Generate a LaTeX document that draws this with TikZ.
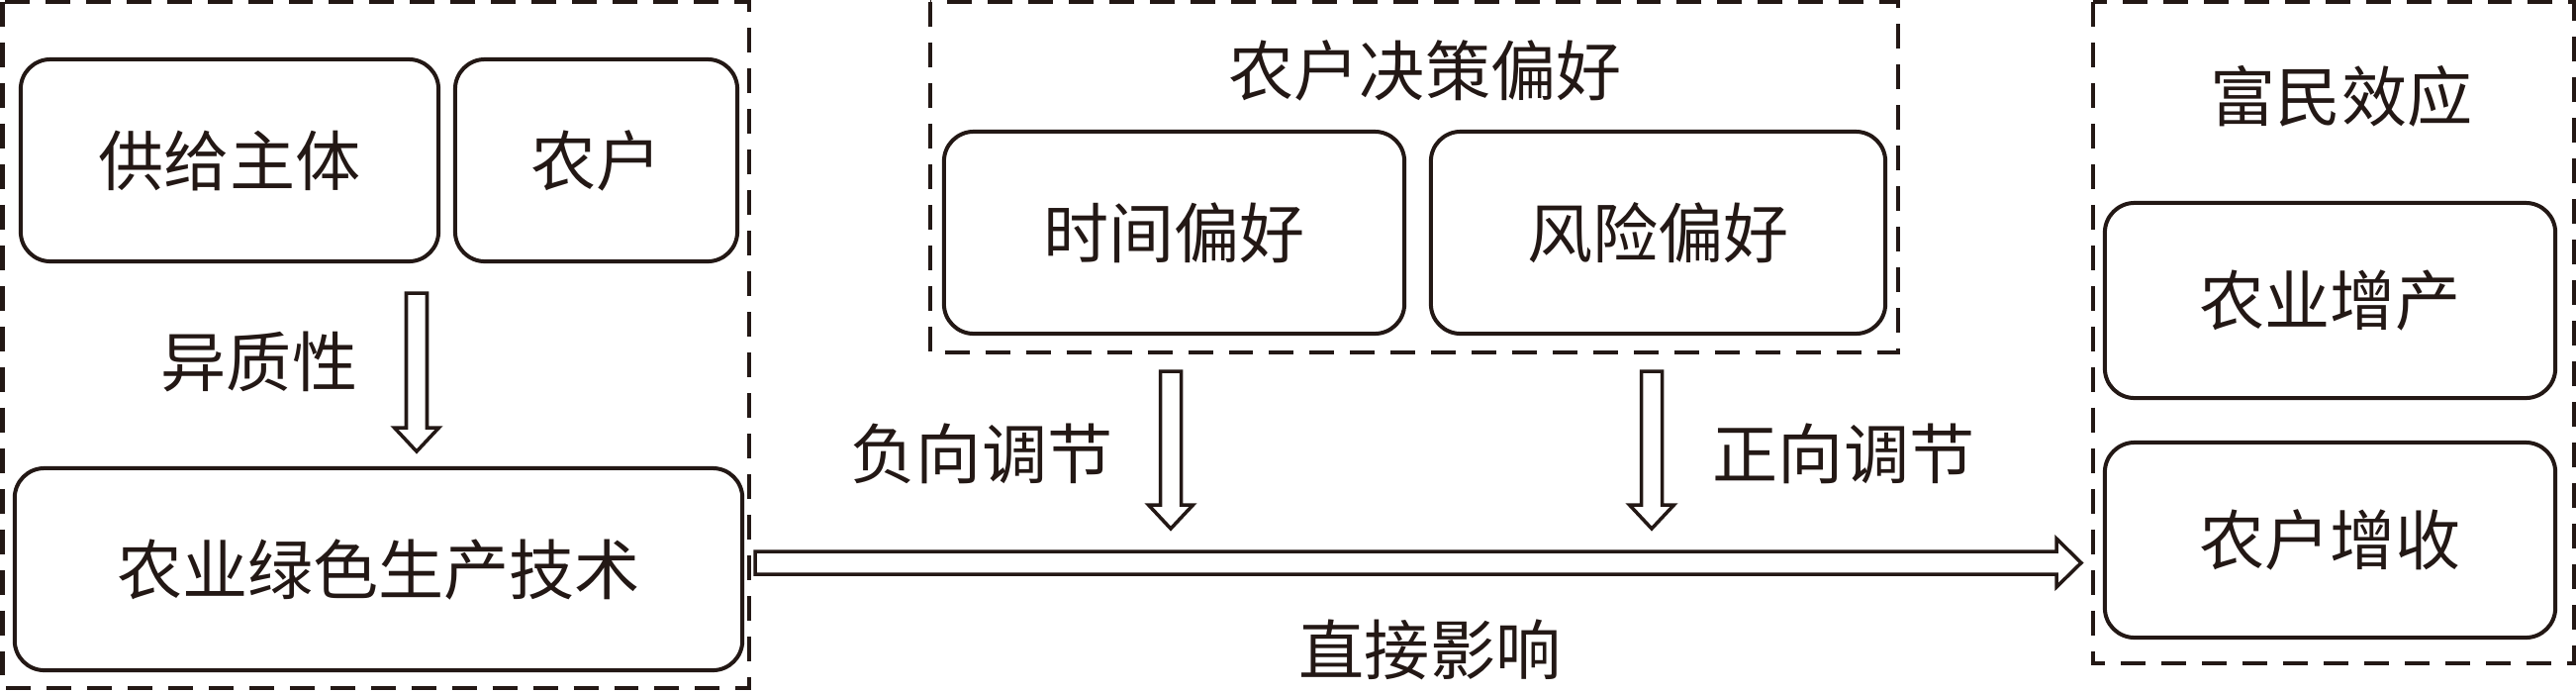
\documentclass[tikz,border=0pt]{standalone}
\usepackage{fontspec}
\setmainfont{Noto Sans CJK SC}
\usetikzlibrary{calc}
\definecolor{ink}{HTML}{231815}
\begin{document}
\begin{tikzpicture}[x=0.01cm,y=-0.01cm,
  every node/.style={font=\fontsize{18.8pt}{20pt}\selectfont, text=ink, inner sep=0pt},
  rbox/.style={draw=ink, line width=1.14pt, rounded corners=0.3cm},
  dbox/.style={draw=ink, line width=1.14pt, dash pattern=on 7.1pt off 4.55pt},
  harrow/.style={draw=ink, line width=1.0pt, fill=white, line join=miter}
]
\useasboundingbox (0,0) rectangle (2603,699);
% dashed groups
\draw[dbox] (2.5,2) rectangle (757,695);
\draw[dbox] (940,2) rectangle (1918,356);
\draw[dbox] (2115,2) rectangle (2601,670);
% boxes
\node[rbox, minimum width=4.22cm, minimum height=2.04cm] (gongji) at (232,162) {供给主体};
\node[rbox, minimum width=2.85cm, minimum height=2.04cm] (nonghu) at (602.5,162) {农户};
\node[rbox, minimum width=7.35cm, minimum height=2.04cm] (jishu) at (382.5,575) {农业绿色生产技术};
\node[rbox, minimum width=4.65cm, minimum height=2.04cm] (shijian) at (1186.5,235) {时间偏好};
\node[rbox, minimum width=4.59cm, minimum height=2.04cm] (fengxian) at (1675.5,235) {风险偏好};
\node[rbox, minimum width=4.55cm, minimum height=1.97cm] (zengchan) at (2354.5,303.5) {农业增产};
\node[rbox, minimum width=4.55cm, minimum height=1.97cm] (zengshou) at (2354.5,545.5) {农户增收};
% titles and labels
\node (juece) at (1440,71) {农户决策偏好};
\node (fumin) at (2366,97) {富民效应};
\node (yizhi) at (262,365) {异质性};
\node (fuxiang) at (992,458) {负向调节};
\node (zhengxiang) at (1863,458) {正向调节};
\node (zhijie) at (1445,656) {直接影响};
% arrow end points
\coordinate (a1s) at (421,296);
\coordinate (a1e) at (421,456);
\coordinate (a2s) at (1183,375);
\coordinate (a2e) at (1183,534);
\coordinate (a3s) at (1669,375);
\coordinate (a3e) at (1669,534);
\coordinate (bs) at (763,568.5);
\coordinate (be) at (2103,568.5);
% hollow down arrows
\foreach \s/\e in {a1s/a1e, a2s/a2e, a3s/a3e}{
  \draw[harrow] ($(\s)+(-10.5,0)$) -- ($(\e)+(-10.5,-24)$) -- ($(\e)+(-22.5,-24)$) -- (\e)
    -- ($(\e)+(22.5,-24)$) -- ($(\e)+(10.5,-24)$) -- ($(\s)+(10.5,0)$) -- cycle;
}
% hollow right arrow
\draw[harrow] ($(bs)+(0,-11.5)$) -- ($(be)+(-25,-11.5)$) -- ($(be)+(-25,-24.5)$) -- (be)
  -- ($(be)+(-25,24.5)$) -- ($(be)+(-25,11.5)$) -- ($(bs)+(0,11.5)$) -- cycle;
\end{tikzpicture}
\end{document}
